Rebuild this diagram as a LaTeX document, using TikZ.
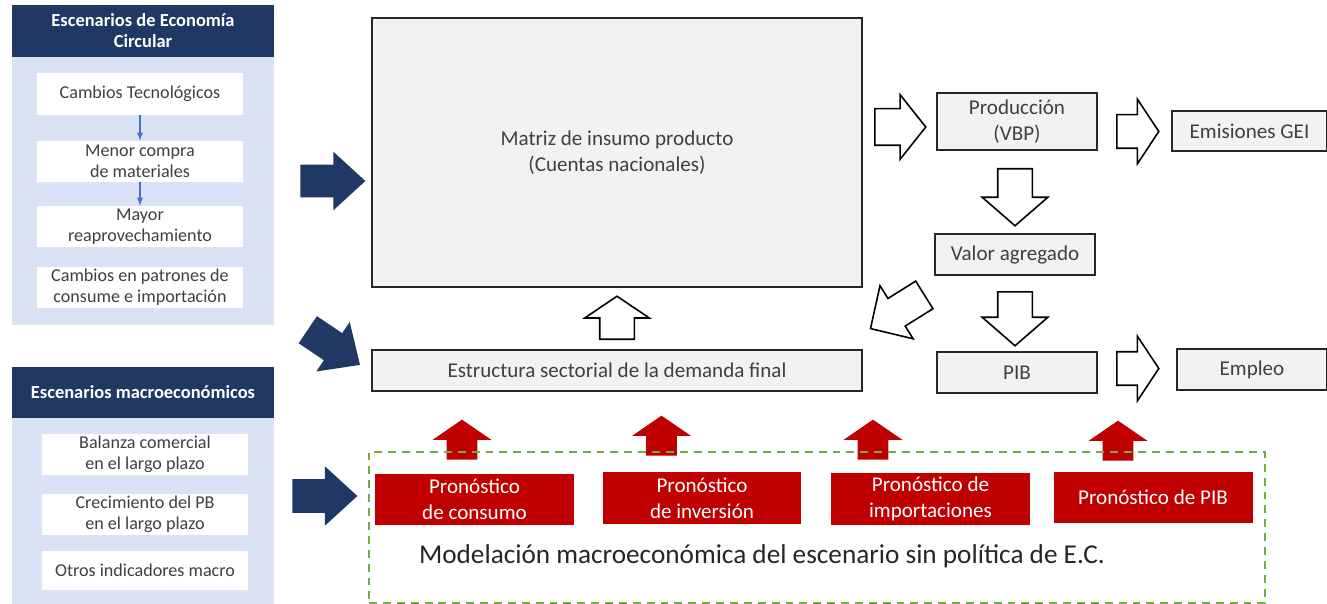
\documentclass[tikz,border=0pt]{standalone}
\usepackage{fontspec}
\setmainfont{Carlito}
\usetikzlibrary{shapes.arrows}
\definecolor{navy}{HTML}{1F3864}
\definecolor{panelblue}{HTML}{DAE3F3}
\definecolor{boxgray}{HTML}{F2F2F2}
\definecolor{redbox}{HTML}{C00000}
\definecolor{dashgreen}{HTML}{70AD47}
\definecolor{smallblue}{HTML}{4472C4}
\definecolor{txtgray}{HTML}{404040}
\begin{document}
\begin{tikzpicture}[x=0.02cm,y=-0.02cm,
    panel/.style={fill=panelblue,draw=none,minimum width=5.24cm,inner sep=0pt},
    header/.style={fill=navy,text=white,draw=none,minimum width=5.24cm,align=center,
      inner sep=0pt,font=\fontsize{10.5}{12}\selectfont\bfseries},
    inbox/.style={fill=white,draw=none,minimum width=4.12cm,minimum height=0.82cm,align=center,
      inner sep=0pt,text=txtgray,font=\fontsize{10.3}{12}\selectfont},
    graybox/.style={fill=boxgray,draw=black!85,line width=0.9pt,align=center,inner sep=0pt,
      text=txtgray,font=\fontsize{12}{14.7}\selectfont},
    redfc/.style={fill=redbox,draw=none,minimum width=3.98cm,minimum height=1.04cm,align=center,
      inner sep=0pt,text=white,font=\fontsize{12}{14.7}\selectfont},
    arrowdims/.style n args={4}{single arrow,anchor=tail,inner xsep=0pt,minimum width=0pt,
      minimum height=#1,inner ysep=#2,single arrow head extend=#3,single arrow tip angle=#4},
    navyarrow/.style={fill=navy,draw=none},
    hollowarrow/.style={fill=white,draw=black,line width=0.9pt},
    redarrow/.style={fill=redbox,draw=none,rotate=90,arrowdims={0.8cm}{0.3cm}{0.28cm}{111}},
    smallarrow/.style={-latex,smallblue,line width=0.6pt}]
\useasboundingbox (0,0) rectangle (1327,604);

% circular economy scenarios
\node[panel,minimum height=6.4cm] (ecbg) at (143,165) {};
\node[header,minimum height=1.04cm] (ech) at (143,31) {Escenarios de Economía\\Circular};
\node[inbox,minimum height=0.84cm] (ct) at (140,94) {Cambios Tecnológicos};
\node[inbox] (mc) at (140,161.5) {Menor compra\\de materiales};
\node[inbox] (mr) at (140,226.5) {Mayor\\reaprovechamiento};
\node[inbox] (cp) at (140,287.5) {Cambios en patrones de\\consume e importación};
\draw[smallarrow] (ct) -- (mc);
\draw[smallarrow] (mc) -- (mr);

% macro scenarios
\node[panel,minimum height=4.74cm] (mabg) at (143,485.5) {};
\node[header,minimum height=1.02cm] (mah) at (143,392.5) {Escenarios macroeconómicos};
\node[inbox] (bc) at (145,454.5) {Balanza comercial\\en el largo plazo};
\node[inbox] (cr) at (145,514) {Crecimiento del PB\\en el largo plazo};
\node[inbox,minimum height=0.78cm] (ot) at (145,570.5) {Otros indicadores macro};

\node[navyarrow,arrowdims={1.3cm}{0.32cm}{0.26cm}{85}] (n1) at (300,181) {};
\node[navyarrow,rotate=-34,arrowdims={1.26cm}{0.32cm}{0.27cm}{85}] (n2) at (307.5,329.5) {};
\node[navyarrow,arrowdims={1.3cm}{0.33cm}{0.26cm}{85}] (n3) at (292,496) {};

% central model
\node[graybox,minimum width=9.8cm,minimum height=5.38cm] (mip) at (617,152.5) {Matriz de insumo producto\\(Cuentas nacionales)};
\node[graybox,minimum width=9.8cm,minimum height=0.82cm] (edf) at (617,370.5) {Estructura sectorial de la demanda final};
\node[graybox,minimum width=3.2cm,minimum height=1.14cm] (vbp) at (1017,121.5) {Producción\\(VBP)};
\node[graybox,minimum width=3.1cm,minimum height=0.8cm] (gei) at (1249.5,131) {Emisiones GEI};
\node[graybox,minimum width=3.2cm,minimum height=0.82cm] (va) at (1015,254.5) {Valor agregado};
\node[graybox,minimum width=3.2cm,minimum height=0.82cm] (pib) at (1017,372.5) {PIB};
\node[graybox,minimum width=3.0cm,minimum height=0.82cm] (emp) at (1252,369.5) {Empleo};

\node[hollowarrow,arrowdims={1.02cm}{0.35cm}{0.28cm}{103}] (a1) at (874,127) {};
\node[hollowarrow,arrowdims={0.84cm}{0.32cm}{0.31cm}{113}] (a2) at (1116,131.5) {};
\node[hollowarrow,rotate=-90,arrowdims={1.14cm}{0.33cm}{0.31cm}{98}] (a3) at (1015,168) {};
\node[hollowarrow,rotate=-90,arrowdims={1.08cm}{0.33cm}{0.31cm}{98}] (a4) at (1015,291) {};
\node[hollowarrow,arrowdims={0.84cm}{0.32cm}{0.31cm}{113}] (a5) at (1116,368.5) {};
\node[hollowarrow,rotate=212,arrowdims={1.27cm}{0.31cm}{0.3cm}{91}] (a6) at (925,294.5) {};
\node[hollowarrow,rotate=90,arrowdims={0.86cm}{0.33cm}{0.3cm}{112}] (a7) at (617,340) {};

% forecasts
\node[redarrow] (r1) at (462,460) {};
\node[redarrow] (r2) at (661.5,456) {};
\node[redarrow] (r3) at (873,460) {};
\node[redarrow] (r4) at (1118,461) {};
\node[redfc] (pc) at (474.5,499.5) {Pronóstico\\de consumo};
\node[redfc] (pi) at (702,498) {Pronóstico\\de inversión};
\node[redfc] (pm) at (930.5,499) {Pronóstico de\\importaciones};
\node[redfc] (pp) at (1153,497.5) {Pronóstico de PIB};
\node[text=black!85,font=\fontsize{15.5}{18}\selectfont] (modtxt) at (762,556) {Modelación macroeconómica del escenario sin política de E.C.};
\node[draw=dashgreen,dashed,dash pattern=on 4.5pt off 3.4pt,line width=1.1pt,minimum width=17.92cm,minimum height=3.02cm,inner sep=0pt] (mod) at (817,527.5) {};
\end{tikzpicture}
\end{document}
